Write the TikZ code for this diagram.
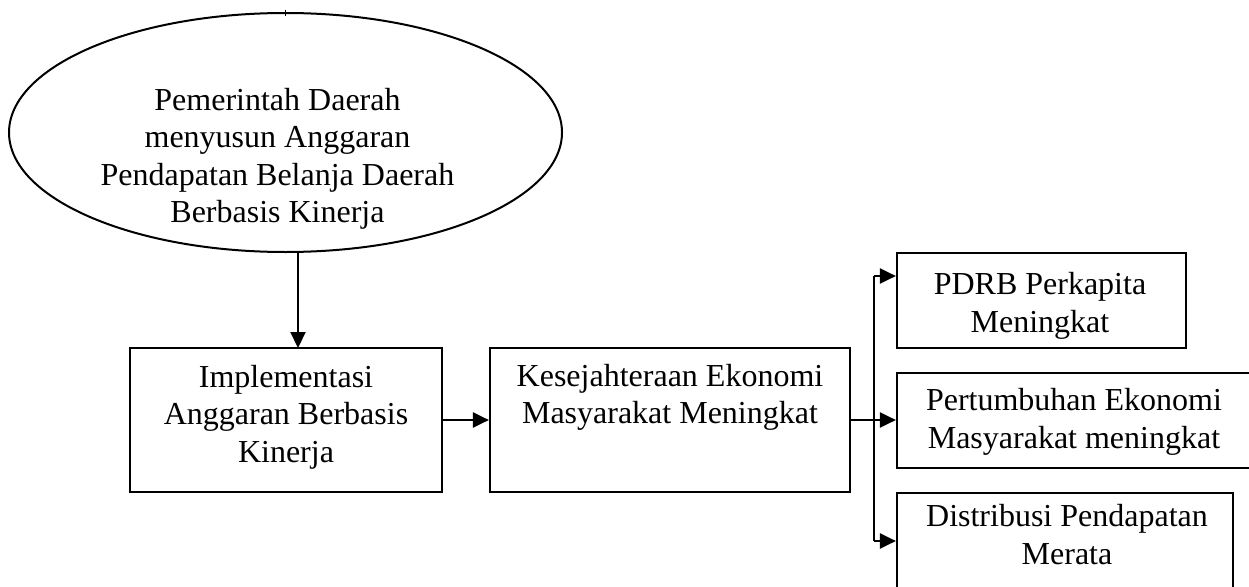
\documentclass[tikz,border=0pt]{standalone}
\usepackage{fontspec}
\setmainfont{Liberation Serif}
\usetikzlibrary{shapes.geometric,arrows.meta}
\begin{document}
\begin{tikzpicture}[x=1pt,y=-1pt,line width=2.2pt,
  box/.style={draw,rectangle,inner sep=0pt},
  oval/.style={draw,ellipse,inner sep=0pt,line width=2pt},
  txt/.style={font=\fontsize{32}{37.5}\selectfont,align=center,inner sep=0pt,anchor=base},
  arr/.style={-{Triangle[length=16pt,width=15pt]}}]
\useasboundingbox (0,0) rectangle (1249,586);
% shapes
\node[oval,minimum width=553,minimum height=239] (e) at (285.5,132.5) {};
\node[box,minimum width=312,minimum height=144] (b1) at (286,420) {};
\node[box,minimum width=360,minimum height=144] (b2) at (670,420) {};
\node[box,minimum width=289,minimum height=95] (b3) at (1041.5,300.5) {};
\node[box,minimum width=358,minimum height=95] (b4) at (1076,420.5) {};
\node[box,minimum width=336,minimum height=107] (b5) at (1065,546.5) {};
% texts (anchored at the baseline of the last line)
\node[txt] (te) at (277.5,222.5) {Pemerintah Daerah\\menyusun Anggaran\\Pendapatan Belanja Daerah\\Berbasis Kinerja};
\node[txt] (t1) at (286,462) {Implementasi\\Anggaran Berbasis\\Kinerja};
\node[txt] (t2) at (670,423.5) {Kesejahteraan Ekonomi\\Masyarakat Meningkat};
\node[txt] (t3) at (1040,332) {PDRB Perkapita\\Meningkat};
\node[txt] (t4) at (1074,448) {Pertumbuhan Ekonomi\\Masyarakat meningkat};
\node[txt] (t5) at (1067,564) {Distribusi Pendapatan\\Merata};
% small mark on top of the ellipse
\coordinate (m1) at (285,10);
\coordinate (m2) at (285,16);
\draw[line width=0.6pt] (m1) -- (m2);
% connectors
\coordinate (a1) at (298,348);
\draw[arr] (a1 |- e.south) -- (a1);
\draw[arr] (b1.east) -- (b2.west);
\coordinate (j) at (874,420);
\coordinate (j3) at (874,276);
\coordinate (j5) at (874,541);
\draw (b2.east) -- (j);
\draw (j3) -- (j5);
\draw[arr] (j) -- (b4.west |- j);
\draw[arr] (j3) -- (b3.west |- j3);
\draw[arr] (j5) -- (b5.west |- j5);
\end{tikzpicture}
\end{document}
